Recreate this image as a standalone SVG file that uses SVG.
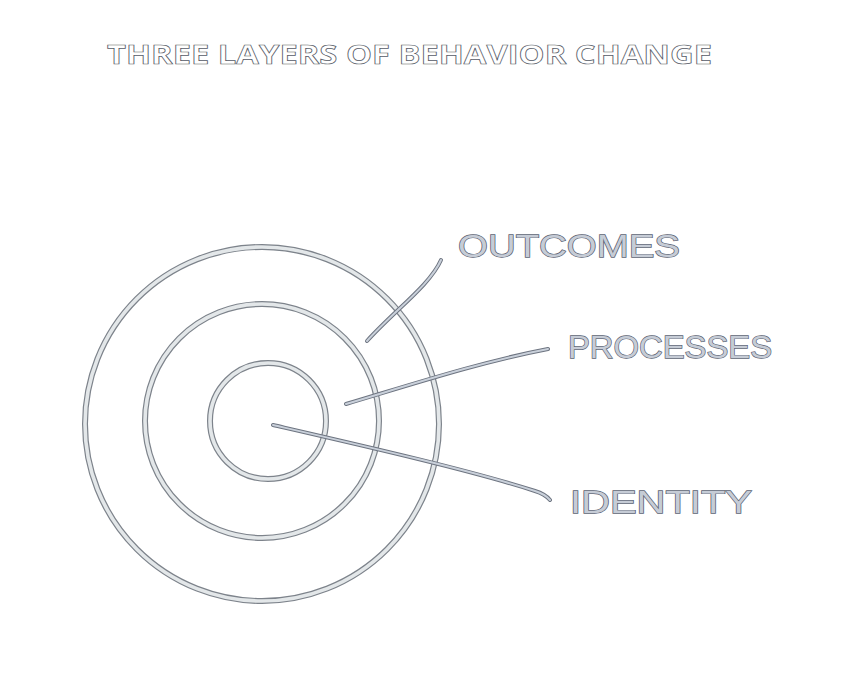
<svg xmlns="http://www.w3.org/2000/svg" width="866" height="675" viewBox="0 0 866 675">
<style>
.ringo{fill:none;stroke:#7d838b;stroke-width:6}
.ringi{fill:none;stroke:#e3e7e9;stroke-width:3.6}
.lno{fill:none;stroke:#6d7480;stroke-width:4;stroke-linecap:round}
.lni{fill:none;stroke:#c9d0da;stroke-width:2;stroke-linecap:round}
.lbl{font-family:"Liberation Sans",Arial,sans-serif;font-size:31px;fill:#c6ccd6;stroke:#5b6272;stroke-width:1.3;paint-order:stroke}
.title{font-family:"Open Sans","Liberation Sans",sans-serif;font-weight:700;font-size:27px;fill:#ffffff;stroke:#555a66;stroke-width:0.7}
</style>
<rect width="866" height="675" fill="#ffffff"/>
<text class="title" x="107" y="64" textLength="605" lengthAdjust="spacingAndGlyphs">THREE LAYERS OF BEHAVIOR CHANGE</text>
<g id="outcomes-ring"><circle class="ringo" cx="262" cy="424" r="177"/><circle class="ringi" cx="262" cy="424" r="177"/></g>
<g id="processes-ring"><circle class="ringo" cx="262" cy="421" r="117"/><circle class="ringi" cx="262" cy="421" r="117"/></g>
<g id="identity-ring"><circle class="ringo" cx="268" cy="421" r="58"/><circle class="ringi" cx="268" cy="421" r="58"/></g>
<g id="connectors">
<path class="lno" d="M367 341 C395 310 430 285 441 260"/>
<path class="lno" d="M346 404 C410 385 480 362 548 349"/>
<path class="lno" d="M273 425 C360 445 470 470 535 491 Q545 494 550 500"/>
<path class="lni" d="M367 341 C395 310 430 285 441 260"/>
<path class="lni" d="M346 404 C410 385 480 362 548 349"/>
<path class="lni" d="M273 425 C360 445 470 470 535 491 Q545 494 550 500"/>
</g>
<g id="label-outcomes"><text class="lbl" x="458" y="257" textLength="222" lengthAdjust="spacingAndGlyphs">OUTCOMES</text></g>
<g id="label-processes"><text class="lbl" x="568" y="358" textLength="204" lengthAdjust="spacingAndGlyphs">PROCESSES</text></g>
<g id="label-identity"><text class="lbl" x="570" y="513" textLength="182" lengthAdjust="spacingAndGlyphs">IDENTITY</text></g>
</svg>
